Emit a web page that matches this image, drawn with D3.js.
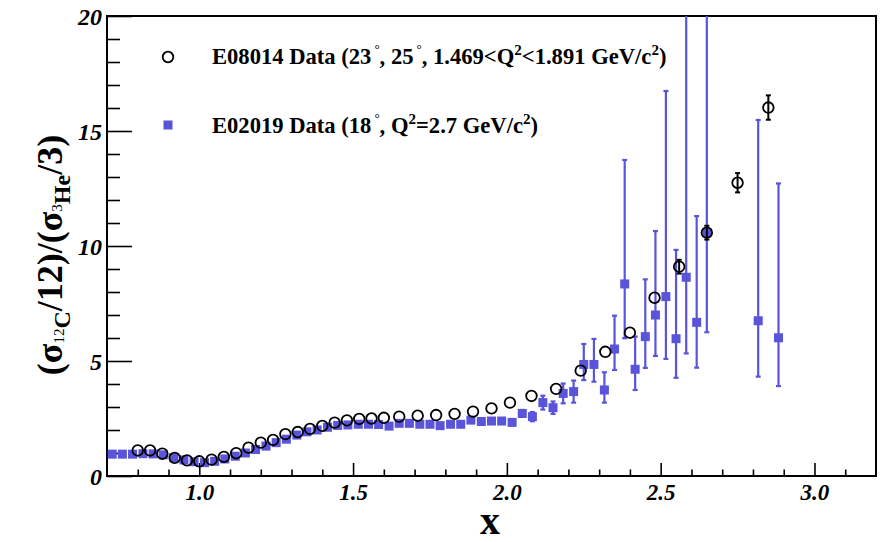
<!DOCTYPE html>
<html>
<head>
<meta charset="utf-8">
<script src="https://cdn.jsdelivr.net/npm/d3@7"></script>
<style>
  html, body { margin: 0; padding: 0; background: #fff; }
  svg { display: block; }
  text { font-family: "Liberation Serif", "Times New Roman", serif; font-weight: bold; }
</style>
</head>
<body>
<svg id="chart" width="881" height="542"></svg>
<script>
// E08014: 12C/3He cross-section ratio (23 and 25 degrees)
const e08014X = [0.80, 0.84, 0.88, 0.92, 0.96, 1.00, 1.04, 1.08, 1.12, 1.16, 1.20, 1.24, 1.28, 1.32,
  1.36, 1.40, 1.44, 1.48, 1.52, 1.56, 1.60, 1.65, 1.71, 1.77, 1.83, 1.89, 1.95, 2.01, 2.08, 2.16,
  2.24, 2.32, 2.40, 2.48, 2.56, 2.65, 2.75, 2.85];
const e08014Y = [1.11, 1.11, 0.97, 0.79, 0.68, 0.64, 0.71, 0.83, 0.99, 1.23, 1.45, 1.57, 1.82, 1.91,
  2.05, 2.18, 2.32, 2.42, 2.48, 2.50, 2.53, 2.58, 2.62, 2.65, 2.70, 2.80, 2.94, 3.19, 3.48, 3.79,
  4.58, 5.40, 6.23, 7.75, 9.10, 10.58, 12.75, 16.02];
const e08014Err = [0.02, 0.02, 0.02, 0.02, 0.02, 0.02, 0.02, 0.02, 0.02, 0.02, 0.02, 0.02, 0.02, 0.02,
  0.02, 0.02, 0.02, 0.02, 0.02, 0.02, 0.02, 0.03, 0.03, 0.03, 0.03, 0.03, 0.04, 0.04, 0.05, 0.06,
  0.08, 0.10, 0.13, 0.18, 0.30, 0.30, 0.42, 0.53];

// E02019: 12C/3He cross-section ratio (18 degrees)
const e02019X = [0.717, 0.750, 0.783, 0.817, 0.850, 0.883, 0.917, 0.950, 0.983, 1.017,
  1.050, 1.083, 1.117, 1.150, 1.183, 1.217, 1.250, 1.283, 1.317, 1.350,
  1.383, 1.417, 1.450, 1.483, 1.517, 1.550, 1.583, 1.617, 1.650, 1.683,
  1.717, 1.750, 1.783, 1.817, 1.850, 1.883, 1.917, 1.950, 1.983, 2.017,
  2.050, 2.083, 2.117, 2.150, 2.183, 2.217, 2.250, 2.283, 2.317, 2.350,
  2.383, 2.417, 2.450, 2.483, 2.517, 2.550, 2.583, 2.617, 2.650, 2.817, 2.883];
const e02019Y = [0.95, 0.95, 0.95, 0.97, 0.96, 0.92, 0.80, 0.70, 0.62, 0.58,
  0.64, 0.74, 0.86, 1.00, 1.15, 1.30, 1.45, 1.60, 1.78, 1.92,
  2.00, 2.12, 2.20, 2.22, 2.25, 2.25, 2.24, 2.17, 2.29, 2.29,
  2.25, 2.25, 2.19, 2.25, 2.25, 2.43, 2.37, 2.39, 2.39, 2.33,
  2.72, 2.58, 3.19, 2.97, 3.59, 3.67, 4.85, 4.85, 3.74, 5.52,
  8.35, 4.64, 6.06, 7.00, 7.80, 5.97, 8.64, 6.68, 10.58, 6.75, 6.01];
const e02019Low = [0.90, 0.90, 0.90, 0.92, 0.91, 0.87, 0.75, 0.65, 0.57, 0.53,
  0.59, 0.69, 0.81, 0.95, 1.10, 1.25, 1.40, 1.55, 1.73, 1.87,
  1.95, 2.07, 2.15, 2.17, 2.20, 2.20, 2.19, 2.12, 2.24, 2.24,
  2.20, 2.20, 2.14, 2.20, 2.19, 2.35, 2.29, 2.31, 2.30, 2.24,
  2.57, 2.38, 2.89, 2.70, 3.16, 3.19, 4.17, 4.10, 3.19, 4.61,
  5.99, 3.74, 4.70, 5.22, 5.09, 4.27, 5.33, 4.71, 6.25, 4.32, 3.91];
const e02019High = [1.00, 1.00, 1.00, 1.02, 1.01, 0.97, 0.85, 0.75, 0.67, 0.63,
  0.69, 0.79, 0.91, 1.05, 1.20, 1.35, 1.50, 1.65, 1.83, 1.97,
  2.05, 2.17, 2.25, 2.27, 2.30, 2.30, 2.29, 2.22, 2.34, 2.34,
  2.30, 2.30, 2.24, 2.30, 2.31, 2.51, 2.45, 2.47, 2.48, 2.42,
  2.87, 2.78, 3.49, 3.24, 4.02, 4.15, 5.74, 5.96, 4.51, 6.97,
  13.74, 6.06, 8.55, 10.65, 16.74, 9.83, 22.0, 11.30, 25.0, 15.48, 12.72];

const xMajorTicks = [1.0, 1.5, 2.0, 2.5, 3.0];
const yMajorTicks = [0, 5, 10, 15, 20];

const blue = "#5954d9";

const svg = d3.select("#chart");
const plot = { left: 107, top: 16, right: 876, bottom: 476 };

const x = d3.scaleLinear().domain([0.7, 3.2]).range([plot.left, plot.right]);
const y = d3.scaleLinear().domain([0, 20]).range([plot.bottom, plot.top]);

svg.append("defs").append("clipPath").attr("id", "plotClip")
  .append("rect")
  .attr("x", plot.left).attr("y", plot.top)
  .attr("width", plot.right - plot.left).attr("height", plot.bottom - plot.top);

// minor ticks
const xMinor = d3.range(8, 32).map(d => d / 10).filter(v => !xMajorTicks.some(m => Math.abs(m - v) < 1e-6));
const yMinor = d3.range(1, 20).filter(v => v % 5 !== 0);

svg.append("g")
  .attr("transform", `translate(0,${plot.bottom})`)
  .call(d3.axisBottom(x).tickValues(xMinor).tickSize(-6.5).tickFormat(""))
  .call(g => g.select(".domain").remove())
  .call(g => g.selectAll("line").attr("stroke", "#000").attr("stroke-width", 1.6));

svg.append("g")
  .attr("transform", `translate(0,${plot.bottom})`)
  .call(d3.axisBottom(x).tickValues(xMajorTicks).tickSize(-13).tickPadding(0).tickFormat(d3.format(".1f")))
  .call(g => g.select(".domain").remove())
  .call(g => g.selectAll("line").attr("stroke", "#000").attr("stroke-width", 1.6))
  .call(g => g.selectAll("text")
    .attr("y", 24).attr("dy", 0)
    .style("font-size", "23px").style("font-style", "italic")
    .style("font-family", "'Liberation Serif', serif").style("font-weight", "bold")
    .attr("fill", "#000"));

svg.append("g")
  .attr("transform", `translate(${plot.left},0)`)
  .call(d3.axisLeft(y).tickValues(yMinor).tickSize(-13).tickFormat(""))
  .call(g => g.select(".domain").remove())
  .call(g => g.selectAll("line").attr("stroke", "#000").attr("stroke-width", 1.6));

svg.append("g")
  .attr("transform", `translate(${plot.left},0)`)
  .call(d3.axisLeft(y).tickValues(yMajorTicks).tickSize(-25).tickPadding(0).tickFormat(d3.format("d")))
  .call(g => g.select(".domain").remove())
  .call(g => g.selectAll("line").attr("stroke", "#000").attr("stroke-width", 1.6))
  .call(g => g.selectAll("text")
    .attr("x", -5).attr("dy", "0.35em")
    .style("font-size", "24px").style("font-style", "italic")
    .style("font-family", "'Liberation Serif', serif").style("font-weight", "bold")
    .attr("fill", "#000"));

// frame
svg.append("rect")
  .attr("x", plot.left).attr("y", plot.top)
  .attr("width", plot.right - plot.left).attr("height", plot.bottom - plot.top)
  .attr("fill", "none").attr("stroke", "#000").attr("stroke-width", 2);

const data = svg.append("g").attr("clip-path", "url(#plotClip)");

// E02019 error bars and squares
const blueRows = e02019X.map((v, i) => ({ x: v, y: e02019Y[i], lo: e02019Low[i], hi: e02019High[i] }));
const capW = 2.5;
const be = data.append("g").attr("stroke", blue).attr("stroke-width", 2.2);
blueRows.forEach(d => {
  be.append("line").attr("x1", x(d.x)).attr("x2", x(d.x)).attr("y1", y(d.lo)).attr("y2", y(d.hi));
  be.append("line").attr("x1", x(d.x) - capW).attr("x2", x(d.x) + capW).attr("y1", y(d.lo)).attr("y2", y(d.lo));
  be.append("line").attr("x1", x(d.x) - capW).attr("x2", x(d.x) + capW).attr("y1", y(d.hi)).attr("y2", y(d.hi));
});
const sq = 9;
data.append("g").selectAll("rect").data(blueRows).join("rect")
  .attr("x", d => x(d.x) - sq / 2).attr("y", d => y(d.y) - sq / 2)
  .attr("width", sq).attr("height", sq).attr("fill", blue);

// E08014 error bars and open circles
const blackRows = e08014X.map((v, i) => ({ x: v, y: e08014Y[i], e: e08014Err[i] }));
const ke = data.append("g").attr("stroke", "#000").attr("stroke-width", 2);
blackRows.filter(d => d.e > 0.25).forEach(d => {
  ke.append("line").attr("x1", x(d.x)).attr("x2", x(d.x)).attr("y1", y(d.y - d.e)).attr("y2", y(d.y + d.e));
  ke.append("line").attr("x1", x(d.x) - capW).attr("x2", x(d.x) + capW).attr("y1", y(d.y - d.e)).attr("y2", y(d.y - d.e));
  ke.append("line").attr("x1", x(d.x) - capW).attr("x2", x(d.x) + capW).attr("y1", y(d.y + d.e)).attr("y2", y(d.y + d.e));
});
data.append("g").selectAll("circle").data(blackRows).join("circle")
  .attr("cx", d => x(d.x)).attr("cy", d => y(d.y)).attr("r", 5.3)
  .attr("fill", "none").attr("stroke", "#000").attr("stroke-width", 1.8);

// legend
const leg = svg.append("g");
leg.append("circle").attr("cx", 168).attr("cy", 57).attr("r", 5.3)
  .attr("fill", "none").attr("stroke", "#000").attr("stroke-width", 1.8);
leg.append("rect").attr("x", 168 - sq / 2).attr("y", 125 - sq / 2).attr("width", sq).attr("height", sq).attr("fill", blue);

const t1 = leg.append("text").attr("x", 212).attr("y", 64).style("font-size", "22.6px").attr("fill", "#000");
t1.append("tspan").text("E08014 Data (23");
t1.append("tspan").attr("dx", 3).attr("dy", -11).style("font-size", "13px").style("font-weight", "normal").text("°");
t1.append("tspan").attr("dy", 11).text(", 25");
t1.append("tspan").attr("dx", 3).attr("dy", -11).style("font-size", "13px").style("font-weight", "normal").text("°");
t1.append("tspan").attr("dy", 11).text(", 1.469<Q");
t1.append("tspan").attr("dy", -9).style("font-size", "15px").text("2");
t1.append("tspan").attr("dy", 9).text("<1.891 GeV/c");
t1.append("tspan").attr("dy", -9).style("font-size", "15px").text("2");
t1.append("tspan").attr("dy", 9).text(")");

const t2 = leg.append("text").attr("x", 212).attr("y", 133).style("font-size", "22.6px").attr("fill", "#000");
t2.append("tspan").text("E02019 Data (18");
t2.append("tspan").attr("dx", 3).attr("dy", -11).style("font-size", "13px").style("font-weight", "normal").text("°");
t2.append("tspan").attr("dy", 11).text(", Q");
t2.append("tspan").attr("dy", -9).style("font-size", "15px").text("2");
t2.append("tspan").attr("dy", 9).text("=2.7 GeV/c");
t2.append("tspan").attr("dy", -9).style("font-size", "15px").text("2");
t2.append("tspan").attr("dy", 9).text(")");

// axis titles
svg.append("text").attr("x", 490).attr("y", 534).attr("text-anchor", "middle")
  .style("font-size", "40px").attr("fill", "#000").text("x");

const yt = svg.append("text")
  .attr("transform", "translate(62,255) rotate(-90)")
  .attr("text-anchor", "middle").style("font-size", "36px").attr("fill", "#000");
yt.append("tspan").text("(σ");
yt.append("tspan").attr("dy", 2).style("font-size", "15px").style("font-weight", "normal").text("12");
yt.append("tspan").attr("dy", 6).style("font-size", "24px").text("C");
yt.append("tspan").attr("dy", -8).text("/12)/(σ");
yt.append("tspan").attr("dy", 0).style("font-size", "15px").style("font-weight", "normal").text("3");
yt.append("tspan").attr("dy", 8).style("font-size", "24px").text("He");
yt.append("tspan").attr("dy", -8).text("/3)");
</script>
</body>
</html>
